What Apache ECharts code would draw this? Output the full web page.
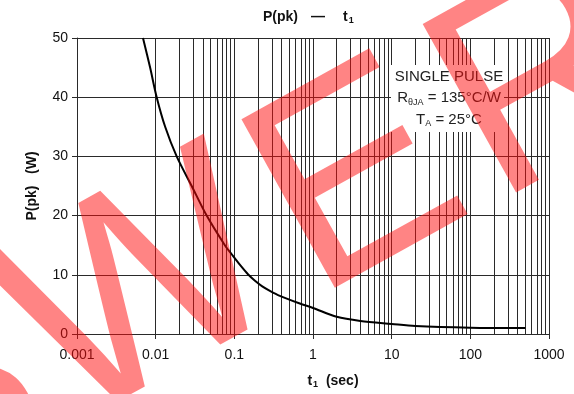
<!DOCTYPE html>
<html>
<head>
<meta charset="utf-8">
<script src="https://cdn.jsdelivr.net/npm/echarts@6/dist/echarts.min.js"></script>
<style>
  html, body { margin: 0; padding: 0; background: #fff; }
  #chart { width: 574px; height: 394px; }
</style>
</head>
<body>
<div id="chart"></div>
<script>
// pulse width t1 (sec) and peak power P(pk) (W)
const pulseTime = [0.0069, 0.0085, 0.0103, 0.0132, 0.0185, 0.0287, 0.0445, 0.0758, 0.096, 0.121, 0.149, 0.183, 0.224, 0.283, 0.379, 0.68, 1, 2, 4, 10, 20, 100, 500]
const peakPower = [50, 45, 40, 35, 30, 25, 20, 15, 13.2, 11.5, 10.1, 9.0, 8.1, 7.3, 6.45, 5.15, 4.4, 2.9, 2.2, 1.7, 1.35, 1.07, 1.0]
const xTickLabels = ['0.001', '0.01', '0.1', '1', '10', '100', '1000']
const yTicks = [0, 10, 20, 30, 40, 50]

// watermark letters and where their centres sit
const markLetters = ['S', 'W', 'E', 'R']
const markCenters = [[-55, 410], [145, 298], [359, 186], [547, 87]]

// minor vertical grid lines 2..9 of every decade
const minorX = []
for (let d = -3; d < 3; d++) {
  for (let m = 2; m <= 9; m++) {
    minorX.push({ xAxis: m * Math.pow(10, d) })
  }
}

const font = 'Liberation Sans, Arial, sans-serif'
const gridColor = '#2a2a2a'

const chart = echarts.init(document.getElementById('chart'))
chart.setOption({
  animation: false,
  backgroundColor: '#fff',
  textStyle: { fontFamily: font },
  title: {
    left: 258,
    top: 5,
    text: '{b|P(pk)}{d|—}{b|t}{s|1}',
    textStyle: {
      rich: {
        b: { fontFamily: font, fontWeight: 'bold', fontSize: 14, color: '#111' },
        d: { fontFamily: font, fontWeight: 'bold', fontSize: 14, color: '#111', padding: [0, 18, 0, 13] },
        s: { fontFamily: font, fontWeight: 'bold', fontSize: 9, color: '#111', verticalAlign: 'bottom', padding: [6, 0, 0, 1] }
      }
    }
  },
  grid: { left: 77, right: 25, top: 38, bottom: 60 },
  xAxis: {
    type: 'log',
    logBase: 10,
    min: 0.001,
    max: 1000,
    name: '{b|t}{s|1}{b|  (sec)}',
    nameLocation: 'middle',
    nameGap: 40,
    nameTextStyle: {
      padding: [0, 0, 0, 40],
      rich: {
        b: { fontFamily: font, fontWeight: 'bold', fontSize: 14, color: '#111' },
        s: { fontFamily: font, fontWeight: 'bold', fontSize: 9, color: '#111', padding: [6, 0, 0, 1] }
      }
    },
    axisLine: { show: true, lineStyle: { color: gridColor, width: 1 } },
    axisTick: { show: true, length: 5, lineStyle: { color: gridColor } },
    axisLabel: {
      color: '#111',
      fontSize: 14,
      margin: 14,
      formatter: v => xTickLabels[Math.round(Math.log10(v)) + 3]
    },
    splitLine: { show: true, lineStyle: { color: gridColor, width: 1 } }
  },
  yAxis: {
    type: 'value',
    min: 0,
    max: 50,
    interval: 10,
    name: 'P(pk)   (W)',
    nameLocation: 'middle',
    nameGap: 38,
    nameTextStyle: { fontFamily: font, fontWeight: 'bold', fontSize: 14, color: '#111' },
    axisLine: { show: true, lineStyle: { color: gridColor, width: 1 } },
    axisTick: { show: true, length: 5, lineStyle: { color: gridColor } },
    axisLabel: {
      color: '#111',
      fontSize: 14,
      margin: 9,
      formatter: v => (yTicks.indexOf(v) >= 0 ? String(v) : '')
    },
    splitLine: { show: true, lineStyle: { color: gridColor, width: 1 } }
  },
  series: [
    {
      type: 'line',
      data: pulseTime.map((t, i) => [t, peakPower[i]]),
      smooth: 0.3,
      showSymbol: false,
      lineStyle: { color: '#000', width: 2 },
      z: 5,
      markLine: {
        silent: true,
        symbol: ['none', 'none'],
        label: { show: false },
        lineStyle: { type: 'solid', color: gridColor, width: 1 },
        data: minorX
      }
    }
  ],
  graphic: [
    {
      type: 'rect',
      shape: { x: 391, y: 65, width: 113, height: 67 },
      style: { fill: '#fff' },
      z: 10
    },
    {
      type: 'text',
      x: 449,
      y: 66,
      z: 11,
      style: {
        text: 'SINGLE PULSE\n{n|R}{s|θJA}{n| = 135°C/W}\n{n|T}{s|A}{n| = 25°C}',
        font: '15px ' + font,
        fill: '#222',
        align: 'center',
        textAlign: 'center',
        lineHeight: 21.5,
        rich: {
          n: { font: '15px ' + font, fill: '#222', lineHeight: 21.5 },
          s: { font: '9px ' + font, fill: '#222', padding: [8, 0, 0, 0], lineHeight: 21.5 }
        }
      }
    }
  ].concat(markLetters.map((ch, i) => ({
    // watermark letters
    type: 'text',
    x: markCenters[i][0],
    y: markCenters[i][1],
    rotation: 29 * Math.PI / 180,
    z: 100,
    silent: true,
    style: {
      text: ch,
      font: '280px ' + font,
      fill: 'rgba(255, 10, 10, 0.5)',
      align: 'center',
      verticalAlign: 'middle',
      textAlign: 'center',
      textVerticalAlign: 'middle'
    }
  })))
})
</script>
</body>
</html>
